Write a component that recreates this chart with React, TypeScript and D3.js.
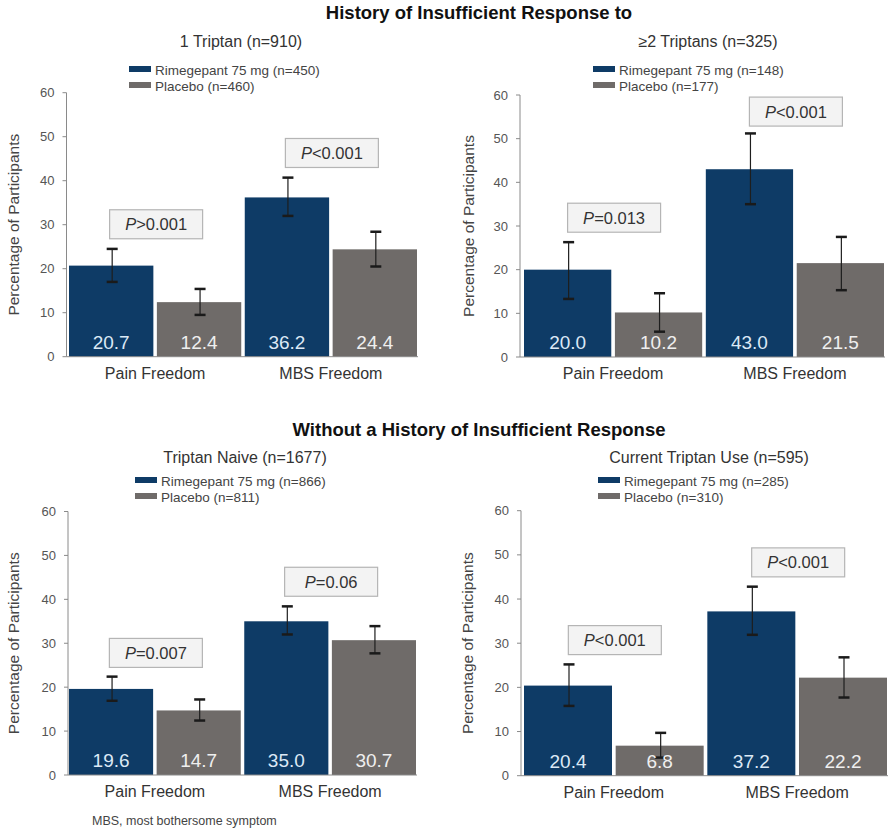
import React from "react";
import * as d3 from "d3";

// ---------- DATA ----------
const sectionTitles = ["History of Insufficient Response to", "Without a History of Insufficient Response"];
const panelTitles = ["1 Triptan (n=910)", "≥2 Triptans (n=325)", "Triptan Naive (n=1677)", "Current Triptan Use (n=595)"];
const rimegepantLabels = ["Rimegepant 75 mg (n=450)", "Rimegepant 75 mg (n=148)", "Rimegepant 75 mg (n=866)", "Rimegepant 75 mg (n=285)"];
const placeboLabels = ["Placebo (n=460)", "Placebo (n=177)", "Placebo (n=811)", "Placebo (n=310)"];
const categories = ["Pain Freedom", "MBS Freedom"];
const seriesKeys = ["Rimegepant", "Placebo"];
const rimegepantValues = [[20.7, 36.2], [20.0, 43.0], [19.6, 35.0], [20.4, 37.2]];
const placeboValues = [[12.4, 24.4], [10.2, 21.5], [14.7, 30.7], [6.8, 22.2]];
const rimegepantCI = [
  [[17.0, 24.5], [32.0, 40.7]],
  [[13.3, 26.3], [35.0, 51.2]],
  [[16.9, 22.4], [32.0, 38.4]],
  [[15.8, 25.2], [31.9, 42.8]],
];
const placeboCI = [
  [[9.5, 15.4], [20.5, 28.4]],
  [[5.8, 14.6], [15.3, 27.5]],
  [[12.4, 17.2], [27.7, 33.9]],
  [[4.1, 9.7], [17.7, 26.8]],
];
const pValues = [
  [">0.001", "<0.001"],
  ["=0.013", "<0.001"],
  ["=0.007", "=0.06"],
  ["<0.001", "<0.001"],
];
const pBoxLevels = [[30.1, 46.3], [31.9, 56.2], [27.8, 44.0], [30.7, 48.3]];
const yTicks = [0, 10, 20, 30, 40, 50, 60];
const yAxisLabel = "Percentage of Participants";
const footnote = "MBS, most bothersome symptom";

// ---------- LAYOUT ----------
const W = 894;
const H = 832;
const FONT = "'Liberation Sans', Arial, Helvetica, sans-serif";
const BLUE = "#0e3b66";
const GRAY = "#6f6b69";
const AXIS = "#8a8a8a";

const geom = [
  { axisX: 66.5, left: 69, right: 417, top: 92.7, bottom: 356.7, ylabX: 14, subX: 241, subY: 47, legX: 129, legY: 75 },
  { axisX: 520, left: 524, right: 884, top: 95, bottom: 357, ylabX: 469, subX: 708, subY: 47, legX: 593, legY: 75 },
  { axisX: 68, left: 69, right: 416, top: 511.5, bottom: 775, ylabX: 14, subX: 245, subY: 463, legX: 135, legY: 486 },
  { axisX: 521, left: 524, right: 887, top: 510.7, bottom: 775.7, ylabX: 468, subX: 709, subY: 463, legX: 598, legY: 486 },
];

function Panel({ i }: { i: number }) {
  const g = geom[i];
  const y = d3.scaleLinear().domain([0, 60]).range([g.bottom, g.top]);
  const x0 = d3.scaleBand<string>().domain(categories).range([g.left, g.right]).paddingInner(0.02).paddingOuter(0);
  const x1 = d3.scaleBand<string>().domain(seriesKeys).range([0, x0.bandwidth()]).paddingInner(0.04).paddingOuter(0);
  const vals = [rimegepantValues[i], placeboValues[i]];
  const cis = [rimegepantCI[i], placeboCI[i]];
  const colors = [BLUE, GRAY];
  const labelColors = ["#dce9f6", "#efefef"];
  const boxW = 93;
  const boxH = 29;
  return (
    <g>
      {/* subtitle + legend */}
      <text x={g.subX} y={g.subY} textAnchor="middle" fontSize={16} fill="#333" fontFamily={FONT}>{panelTitles[i]}</text>
      {[rimegepantLabels[i], placeboLabels[i]].map((lab, k) => (
        <g key={k} transform={`translate(${g.legX},${g.legY + k * 16})`}>
          <rect x={0} y={-9} width={22} height={6} fill={colors[k]} />
          <text x={26} y={0} fontSize={13.5} fill="#444" fontFamily={FONT}>{lab}</text>
        </g>
      ))}
      {/* y axis */}
      <line x1={g.axisX} x2={g.axisX} y1={y(60)} y2={y(0)} stroke={AXIS} strokeWidth={1} />
      {yTicks.map((t) => (
        <g key={t}>
          <line x1={g.axisX - 4} x2={g.axisX} y1={y(t)} y2={y(t)} stroke={AXIS} />
          <text x={g.axisX - 12} y={y(t)} dy="0.35em" textAnchor="end" fontSize={13} fill="#555" fontFamily={FONT}>{t}</text>
        </g>
      ))}
      <text
        transform={`translate(${g.ylabX},${(g.top + g.bottom) / 2}) rotate(-90)`}
        textAnchor="middle" dy="0.35em" fontSize={15.5} fill="#444" fontFamily={FONT}
      >{yAxisLabel}</text>
      {/* bars */}
      {categories.map((c, ci) => (
        <g key={c} transform={`translate(${x0(c)},0)`}>
          {seriesKeys.map((s, si) => {
            const v = vals[si][ci];
            const bx = x1(s)!;
            const bw = x1.bandwidth();
            const [lo, hi] = cis[si][ci];
            const cx = bx + bw / 2 + 1;
            return (
              <g key={s}>
                <rect x={bx} y={y(v)} width={bw} height={y(0) - y(v)} fill={colors[si]} />
                <line x1={cx} x2={cx} y1={y(hi)} y2={y(lo)} stroke="#1e1e1e" strokeWidth={1.2} />
                <line x1={cx - 5.5} x2={cx + 5.5} y1={y(hi)} y2={y(hi)} stroke="#1a1a1a" strokeWidth={2.5} />
                <line x1={cx - 5.5} x2={cx + 5.5} y1={y(lo)} y2={y(lo)} stroke="#1a1a1a" strokeWidth={2.5} />
                <text x={bx + bw / 2} y={y(0) - 8} textAnchor="middle" fontSize={19} fill={labelColors[si]} fontFamily={FONT}>
                  {v.toFixed(1)}
                </text>
              </g>
            );
          })}
          {/* p box */}
          <rect
            x={x0.bandwidth() / 2 - boxW / 2 + 1}
            y={y(pBoxLevels[i][ci]) - boxH / 2}
            width={boxW} height={boxH}
            fill="#f3f3f3" stroke="#b5b5b5" strokeWidth={1.2}
          />
          <text x={x0.bandwidth() / 2 + 1} y={y(pBoxLevels[i][ci])} dy="0.36em" textAnchor="middle" fontSize={16.5} fill="#333" fontFamily={FONT}>
            <tspan fontStyle="italic">P</tspan>{pValues[i][ci]}
          </text>
          <text x={x0.bandwidth() / 2} y={g.bottom + 22} textAnchor="middle" fontSize={16} fill="#333" fontFamily={FONT}>{c}</text>
        </g>
      ))}
      {/* x baseline */}
      <line x1={g.axisX} x2={g.right + 1} y1={y(0)} y2={y(0)} stroke={AXIS} strokeWidth={1} />
    </g>
  );
}

export default function App() {
  return (
    <svg width={W} height={H} viewBox={`0 0 ${W} ${H}`} style={{ display: "block", position: "absolute", left: 0, top: 0, background: "#fff" }}>
      <rect width={W} height={H} fill="#fff" />
      <text x={479} y={19} textAnchor="middle" fontSize={18.5} fontWeight="bold" fill="#111" fontFamily={FONT}>{sectionTitles[0]}</text>
      <text x={479} y={436} textAnchor="middle" fontSize={18.5} fontWeight="bold" fill="#111" fontFamily={FONT}>{sectionTitles[1]}</text>
      {[0, 1, 2, 3].map((i) => <Panel key={i} i={i} />)}
      <text x={92} y={825} fontSize={12.5} fill="#444" fontFamily={FONT}>{footnote}</text>
    </svg>
  );
}
